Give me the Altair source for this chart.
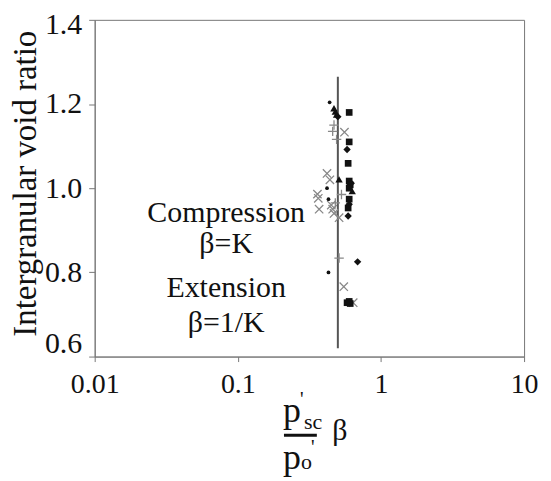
import altair as alt
import pandas as pd

# ---- data ----
dot_x = [0.438, 0.42, 0.43, 0.43]
dot_y = [1.204, 1.000, 0.974, 0.800]

tri_x = [0.47, 0.49, 0.48, 0.51, 0.63]
tri_y = [1.190, 1.175, 1.182, 1.021, 0.993]

sq_x = [0.60, 0.60, 0.59, 0.60, 0.61, 0.60, 0.60, 0.59, 0.58, 0.61, 0.60]
sq_y = [1.180, 1.110, 1.059, 1.017, 1.008, 1.000, 0.974, 0.953, 0.728, 0.726, 0.731]

dia_x = [0.58, 0.62, 0.59, 0.60, 0.687, 0.50]
dia_y = [1.092, 1.012, 0.934, 0.962, 0.825, 1.170]

xm_x = [0.556, 0.42, 0.36, 0.365, 0.37, 0.45, 0.46, 0.51, 0.55, 0.64, 0.44, 0.47]
xm_y = [1.133, 1.035, 0.986, 0.976, 0.950, 0.960, 0.950, 0.930, 0.766, 0.728, 1.020, 0.940]

plus_x = [0.46, 0.49, 0.51, 0.47, 0.53, 0.48]
plus_y = [1.135, 1.116, 0.834, 1.150, 0.985, 0.965]

line_x = [0.5]
line_y = [0.62]
line_y2 = [1.265]

x_ticks = [0.01, 0.1, 1, 10]
y_ticks = [0.6, 0.8, 1.0, 1.2, 1.4]

annot_text = ["Compression", "β=K", "Extension", "β=1/K"]

SERIF = "Liberation Serif"
W, H = 431, 338

xscale = alt.Scale(type="log", domain=[0.01, 10], nice=False)
yscale = alt.Scale(domain=[0.6, 1.4], nice=False, zero=False)

xaxis = alt.Axis(values=x_ticks, format="~g", title=None, grid=False,
                 labelFont=SERIF, labelFontSize=28, labelColor="#111",
                 labelPadding=9, tickSize=5, domainColor="#777", tickColor="#777",
                 labelFlush=False)
yaxis = alt.Axis(values=y_ticks, format=".1f", grid=False,
                 title="Intergranular void ratio", titleFont=SERIF, titleFontSize=33,
                 titleFontWeight="normal", titleColor="#111", titleAngle=270,
                 titleX=-69, titleY=164, titleAlign="center", titleBaseline="middle",
                 labelFont=SERIF, labelFontSize=30, labelColor="#111",
                 labelPadding=7, tickSize=6, domainColor="#777", tickColor="#777",
                 labelOffset={"condition": [{"test": "datum.value < 0.65", "value": -13},
                                            {"test": "datum.value > 1.35", "value": 5}],
                              "value": 0})


def pts(xs, ys):
    return pd.DataFrame({"x": xs, "y": ys})


def enc(ch):
    return ch.encode(x=alt.X("x:Q", scale=xscale, axis=xaxis),
                     y=alt.Y("y:Q", scale=yscale, axis=yaxis))


rule = alt.Chart(pd.DataFrame({"x": line_x, "y": line_y, "y2": line_y2})).mark_rule(
    color="#555", strokeWidth=2).encode(
    x=alt.X("x:Q", scale=xscale, axis=xaxis),
    y=alt.Y("y:Q", scale=yscale, axis=yaxis), y2="y2:Q")

dots = enc(alt.Chart(pts(dot_x, dot_y)).mark_point(shape="circle", filled=True, size=14, color="#111", opacity=1))
tris = enc(alt.Chart(pts(tri_x, tri_y)).mark_point(shape="triangle-up", filled=True, size=55, color="#111", opacity=1))
sqs = enc(alt.Chart(pts(sq_x, sq_y)).mark_point(shape="square", filled=True, size=45, color="#111", opacity=1))
dias = enc(alt.Chart(pts(dia_x, dia_y)).mark_point(shape="diamond", filled=True, size=55, color="#111", opacity=1))
xms = enc(alt.Chart(pts(xm_x, xm_y)).mark_point(shape="M-1,-1L1,1M-1,1L1,-1", filled=False, size=70,
                                                 color="#888", strokeWidth=1.3, opacity=1))
pluses = enc(alt.Chart(pts(plus_x, plus_y)).mark_point(shape="M-1,0L1,0M0,-1L0,1", filled=False, size=90,
                                                        color="#888", strokeWidth=1.3, opacity=1))

# annotation text
ann_y = [203, 234, 278, 313]
ann = [alt.Chart(pd.DataFrame({"t": [t]})).mark_text(font=SERIF, fontSize=30, color="#111",
                                                      align="center", baseline="alphabetic").encode(
    text="t:N", x=alt.value(132), y=alt.value(yy)) for t, yy in zip(annot_text, ann_y)]


def txt(s, x, y, size, align="center", baseline="alphabetic"):
    return alt.Chart(pd.DataFrame({"t": [s]})).mark_text(
        font=SERIF, fontSize=size, color="#111", align=align, baseline=baseline).encode(
        text="t:N", x=alt.value(x), y=alt.value(y))


# x-axis title as a fraction: p'_sc / p'_o  beta
xtitle = [
    txt("p", 198, 404, 36),
    txt("'", 208, 388, 20),
    txt("sc", 210, 411, 22, align="left"),
    txt("p", 198, 451, 36),
    txt("o", 207, 451, 22, align="left"),
    txt("'", 219, 436, 20),
    txt("β", 246, 422, 30),
]
bar = alt.Chart(pd.DataFrame({"a": [0]})).mark_rule(color="#111", strokeWidth=3).encode(
    x=alt.value(190), x2=alt.value(223), y=alt.value(417))

chart = alt.layer(rule, xms, pluses, dots, tris, sqs, dias, *ann, *xtitle, bar).properties(
    width=W, height=H,
    view=alt.ViewBackground(stroke="#777", strokeWidth=1),
    padding={"left": 1, "top": 1, "right": 5, "bottom": 0},
)

chart.save("out.html", embed_options={"renderer": "svg", "actions": False})
